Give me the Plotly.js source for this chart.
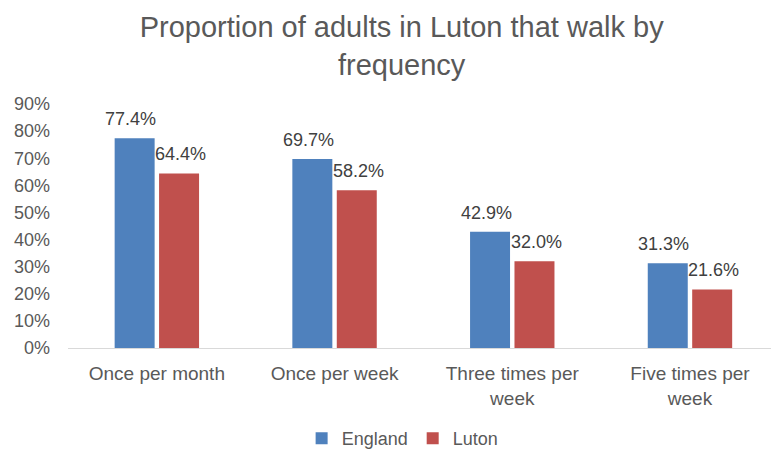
<!DOCTYPE html>
<html><head><meta charset="utf-8">
<script src="https://cdn.plot.ly/plotly-3.0.1.min.js"></script>
<style>html,body{margin:0;padding:0;background:#fff}#chart{width:771px;height:457px}</style>
</head><body><div id="chart"></div>
<script>
const categories = ["Once per month", "Once per week", "Three times per<br>week", "Five times per<br>week"];
const england = [0.774, 0.697, 0.429, 0.313];
const luton = [0.644, 0.582, 0.320, 0.216];
const seriesNames = ["England", "Luton"];
const tickVals = [0, 0.1, 0.2, 0.3, 0.4, 0.5, 0.6, 0.7, 0.8, 0.9];
const tickText = ["0%", "10%", "20%", "30%", "40%", "50%", "60%", "70%", "80%", "90%"];

const fam = "Liberation Sans, Arial, sans-serif";
const font = {family: fam, size: 18, color: "#595959"};
const catFont = {family: fam, size: 19, color: "#595959"};
const fmt = v => (v * 100).toFixed(1) + "%";

const traces = [
  {type: "bar", name: seriesNames[0], x: categories, y: england, marker: {color: "#4F81BD"}},
  {type: "bar", name: seriesNames[1], x: categories, y: luton, marker: {color: "#C0504D"}}
];

const annotations = [];
[england, luton].forEach((arr, si) => {
  arr.forEach((v, i) => {
    annotations.push({x: categories[i], y: v, xref: "x", yref: "y", text: fmt(v),
      showarrow: false, xanchor: "center", yanchor: "bottom", yshift: 7,
      xshift: si === 0 ? -26 : 24,
      font: {family: fam, size: 18, color: "#404040"}});
  });
});

const layout = {
  width: 771, height: 457,
  margin: {l: 68, r: 0, t: 104, b: 105},
  paper_bgcolor: "#fff", plot_bgcolor: "#fff",
  font: font,
  title: {text: "Proportion of adults in Luton that walk by<br>frequency",
          font: {family: fam, size: 29, color: "#595959"},
          xref: "container", yref: "container",
          x: 0.521, xanchor: "center", y: 0.918, yanchor: "middle"},
  barmode: "group", bargap: 0.5, bargroupgap: 0.1,
  xaxis: {type: "category", range: [-0.5, 3.456], showline: true, linecolor: "#d9d9d9", linewidth: 1,
          ticks: "", showgrid: false, tickfont: catFont, fixedrange: true, ticklabelstandoff: 8},
  yaxis: {range: [0, 0.9], tickvals: tickVals, ticktext: tickText, showgrid: false, zeroline: false,
          showline: false, ticks: "", tickfont: font, ticklabelstandoff: 17},
  legend: {orientation: "h", x: 0.476, xanchor: "center", y: -0.372, yanchor: "middle",
           font: font, itemwidth: 30},
  annotations: annotations,
  showlegend: true
};

Plotly.newPlot("chart", traces, layout, {displayModeBar: false, staticPlot: true});
</script>
</body></html>
